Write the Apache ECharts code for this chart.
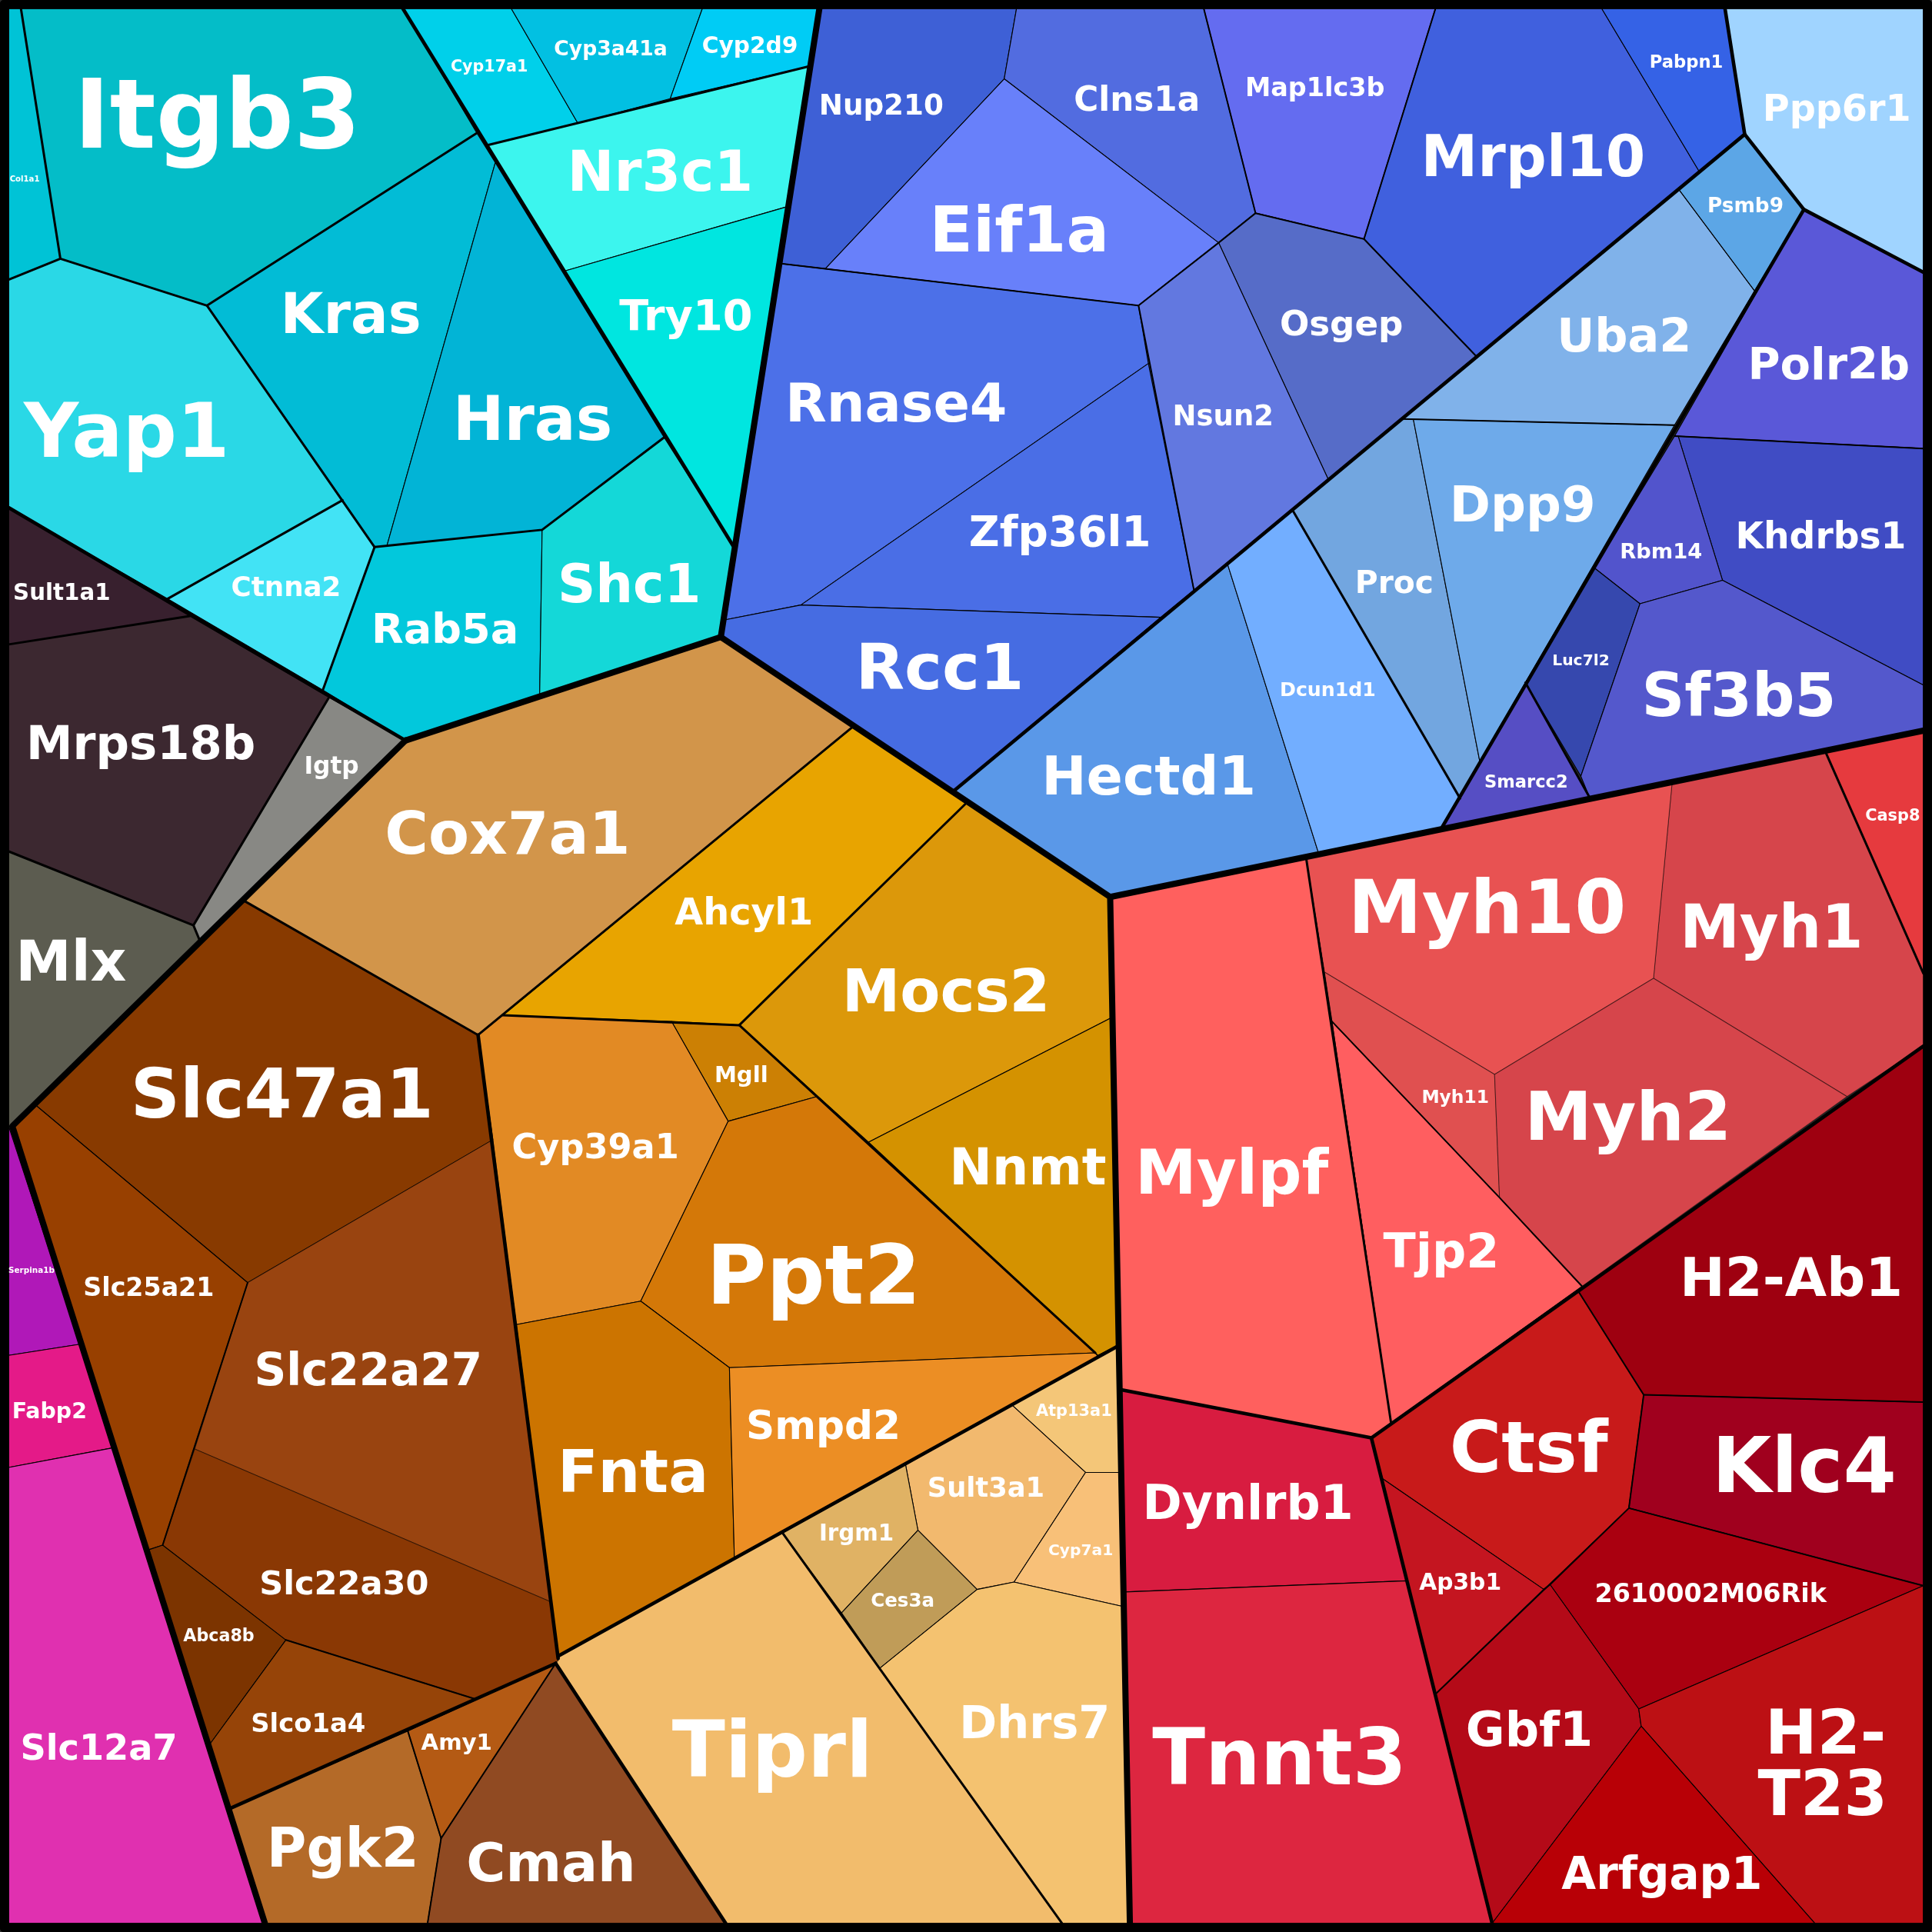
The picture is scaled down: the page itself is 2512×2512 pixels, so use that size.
<!DOCTYPE html>
<html>
<head>
<meta charset="utf-8">
<title>Voronoi treemap</title>
<script src="https://cdn.jsdelivr.net/npm/echarts@6/dist/echarts.min.js"></script>
<style>
  html, body { margin: 0; padding: 0; background: #2b2b2b; }
  #chart { width: 2512px; height: 2512px; }
</style>
</head>
<body>
<div id="chart"></div>
<script>
// gene names, one per cell
const genes = [
  'Col1a1','Itgb3','Yap1','Kras','Hras','Ctnna2','Rab5a','Shc1','Cyp17a1','Cyp3a41a','Cyp2d9','Nr3c1','Try10',
  'Nup210','Clns1a','Map1lc3b','Mrpl10','Pabpn1','Eif1a','Osgep','Nsun2','Rnase4','Zfp36l1','Rcc1',
  'Hectd1','Dcun1d1','Proc','Dpp9','Uba2','Psmb9','Ppp6r1','Polr2b','Khdrbs1','Rbm14','Luc7l2','Sf3b5','Smarcc2',
  'Casp8','Myh1','Myh10','Myh11','Myh2','Tjp2','Mylpf','Dynlrb1','Tnnt3','Ctsf','H2-Ab1','Klc4','2610002M06Rik','Ap3b1','Gbf1','H2-T23','Arfgap1',
  'Cox7a1','Ahcyl1','Mocs2','Nnmt','Mgll','Cyp39a1','Ppt2','Fnta','Smpd2','Atp13a1','Sult3a1','Cyp7a1','Irgm1','Ces3a','Dhrs7','Tiprl',
  'Slc47a1','Slc25a21','Slc22a27','Slc22a30','Abca8b','Slco1a4','Pgk2','Amy1','Cmah',
  'Serpina1b','Fabp2','Slc12a7','Sult1a1','Mrps18b','Igtp','Mlx'
]

// cell outlines, same order as genes
const cellOutlines = [
  [[7,7],[17,7],[49,210],[7,227]],
  [[17,7],[327,7],[387,108],[168,248],[49,210]],
  [[7,227],[49,210],[168,248],[278,406],[136,486],[7,412]],
  [[168,248],[387,108],[402,132],[314,443],[304,444],[278,406]],
  [[402,132],[539,355],[440,430],[314,443]],
  [[278,406],[304,444],[262,560],[136,486]],
  [[304,444],[440,430],[438,564],[329,601],[262,560]],
  [[440,430],[539,355],[595,443],[585,517],[438,564]],
  [[327,7],[415,7],[469,100],[395,118]],
  [[415,7],[570,7],[544,80],[469,100]],
  [[570,7],[665,7],[656,54],[544,80]],
  [[395,118],[656,54],[638,168],[458,220]],
  [[458,220],[638,168],[595,443]],

  [[665,7],[825,7],[815,64],[670,218],[634,214]],
  [[825,7],[977,7],[1019,173],[989,197],[815,64]],
  [[977,7],[1165,7],[1107,194],[1019,173]],
  [[1165,7],[1300,7],[1379,139],[1198,289],[1107,194]],
  [[1300,7],[1400,7],[1416,109],[1379,139]],
  [[815,64],[989,197],[924,248],[670,218]],
  [[1019,173],[1107,194],[1198,289],[1078,389],[989,197]],
  [[989,197],[1078,389],[969,479],[932,295],[924,248]],
  [[634,214],[924,248],[932,295],[650,491],[589,503]],
  [[932,295],[969,479],[942,501],[650,491]],
  [[589,503],[650,491],[942,501],[774,642],[585,517]],

  [[774,642],[996,457],[1070,692],[901,728]],
  [[996,457],[1049,414],[1185,648],[1170,672],[1070,692]],
  [[1049,414],[1138,340],[1147,340],[1201,618],[1185,648]],
  [[1147,340],[1359,345],[1201,618]],
  [[1138,340],[1362,153],[1424,236],[1359,345]],
  [[1362,153],[1416,109],[1464,170],[1424,236]],
  [[1400,7],[1561,7],[1561,221],[1464,170],[1416,109]],
  [[1464,170],[1561,221],[1561,364],[1359,354]],
  [[1362,354],[1561,364],[1561,556],[1398,471]],
  [[1359,354],[1362,354],[1398,471],[1331,490],[1294,461]],
  [[1294,461],[1331,490],[1283,630],[1238,554]],
  [[1331,490],[1398,471],[1561,556],[1561,593],[1290,647],[1283,630]],
  [[1238,554],[1290,647],[1170,672]],

  [[1481,609],[1561,593],[1561,790]],
  [[1357,636],[1481,609],[1561,790],[1561,849],[1499,890],[1342,794]],
  [[1060,696],[1357,636],[1342,794],[1213,872],[1075,789]],
  [[1075,789],[1213,872],[1217,972],[1081,829]],
  [[1342,794],[1499,890],[1284,1044],[1217,972],[1213,872]],
  [[1081,829],[1217,972],[1284,1044],[1129,1155]],
  [[901,728],[1060,696],[1081,829],[1129,1155],[1113,1167],[910,1128]],
  [[910,1128],[1113,1167],[1142,1283],[913,1292]],
  [[913,1292],[1142,1283],[1211,1561],[917,1561]],
  [[1113,1167],[1281,1048],[1334,1132],[1322,1224],[1253,1290],[1122,1200]],
  [[1281,1048],[1561,849],[1561,1138],[1334,1132]],
  [[1334,1132],[1561,1138],[1561,1287],[1322,1224]],
  [[1322,1224],[1561,1287],[1330,1387],[1258,1286]],
  [[1122,1200],[1253,1290],[1165,1375]],
  [[1165,1375],[1258,1286],[1330,1387],[1332,1401],[1211,1561]],
  [[1561,1287],[1561,1561],[1473,1561],[1332,1401],[1330,1387]],
  [[1332,1401],[1473,1561],[1211,1561]],

  [[329,601],[585,517],[692,590],[388,840],[198,731]],
  [[692,590],[784,652],[600,832],[408,824]],
  [[784,652],[901,728],[902,826],[705,927],[600,832]],
  [[902,826],[907,1092],[891,1100],[889,1098],[705,927]],
  [[545,829],[600,832],[663,890],[591,910]],
  [[408,824],[545,829],[591,910],[520,1056],[419,1075],[388,840]],
  [[591,910],[663,890],[889,1098],[592,1110],[520,1056]],
  [[419,1075],[520,1056],[592,1110],[596,1264],[453,1344]],
  [[592,1110],[889,1098],[891,1101],[596,1264]],
  [[908,1092],[909,1195],[881,1195],[821,1140]],
  [[821,1140],[881,1195],[823,1284],[793,1290],[745,1242],[735,1189]],
  [[881,1195],[909,1195],[912,1304],[823,1284]],
  [[735,1189],[745,1242],[683,1309],[635,1244]],
  [[745,1242],[793,1290],[714,1354],[683,1309]],
  [[793,1290],[823,1284],[912,1304],[917,1561],[862,1561],[714,1354]],
  [[635,1244],[862,1561],[589,1561],[451,1350],[454,1344]],

  [[198,731],[388,840],[400,925],[201,1041],[29,897]],
  [[29,897],[201,1041],[132,1254],[120,1258],[10,914]],
  [[201,1041],[400,925],[447,1300],[158,1176]],
  [[158,1176],[447,1300],[453,1348],[386,1379],[232,1331],[132,1254]],
  [[120,1258],[132,1254],[232,1331],[170,1416]],
  [[232,1331],[386,1379],[186,1468],[170,1416]],
  [[186,1468],[331,1405],[358,1492],[347,1561],[215,1561]],
  [[331,1405],[451,1350],[358,1492]],
  [[451,1350],[589,1561],[347,1561],[358,1492]],

  [[7,914],[65,1091],[7,1100]],
  [[7,1100],[65,1091],[92,1175],[7,1191]],
  [[7,1191],[92,1175],[215,1561],[7,1561]],
  [[7,412],[154,500],[7,523]],
  [[7,523],[154,500],[267,566],[157,751],[7,691]],
  [[267,566],[329,601],[162,763],[157,751]],
  [[7,691],[157,751],[162,763],[10,914],[7,914]]
]

const cellColors = [
  '#00c3d6','#04bdc8','#2ad8e6','#02bcd6','#02b4d6','#42e3f5','#02c8dc','#14d8d8','#00d0ea','#02c0e2','#00ccf5','#3cf5ee','#00e6e0',
  '#3e60d6','#526ce0','#646cf0','#4060de','#3562e6','#6880fa','#566cc8','#6278e0','#4c70e8','#4a6ee6','#466ce2',
  '#5a98e8','#72aeff','#72a6e0','#6eaaea','#80b2ea','#5ca6e6','#a0d4ff','#5a58d8','#404cc4','#5254cc','#3648ae','#5458cc','#564ec4',
  '#e63a3e','#d6454b','#e85252','#e05050','#d6454b','#ff5e60','#ff605e','#d81c40','#dd2640','#c81a1a','#9e0010','#a0001e','#aa0010','#c41520','#b40a18','#bc1014','#b80006',
  '#d2954a','#e8a400','#dc980a','#d49200','#cc8004','#e28a24','#d47808','#cc7400','#ec8e24','#f4c678','#f2b96e','#f8c078','#e0b264','#c09c58','#f4c270','#f2bc6c',
  '#883a00','#984000','#994410','#8a3804','#7c3400','#964408','#b46a28','#b45a14','#904a22',
  '#b018b8','#e41a88','#e030b0','#38202e','#3c2830','#888884','#5c5c50'
]

// these cells have a much fainter outline than the others
const faintCells = ['Myh1', 'Myh10', 'Myh11', 'Myh2', 'Slc22a27', 'Slc22a30']

// [left, right, baseline] of each label, one row per line of text
const labelBoxes = [
  [[8,32,147]],[[61,291,120]],[[20,185,371]],[[228,341,270]],[[368,496,357]],[[188,276,484]],[[302,420,522]],[[453,568,489]],
  [[366,428,58]],[[450,541,45]],[[570,647,43]],[[461,610,155]],[[503,610,268]],
  [[665,765,93]],[[872,973,90]],[[1011,1123,78]],[[1154,1334,143]],[[1339,1398,55]],[[755,899,204]],[[1039,1138,272]],[[952,1033,345]],[[638,816,342]],[[787,933,443]],[[695,830,559]],
  [[846,1018,645]],[[1039,1116,565]],[[1100,1163,481]],[[1177,1294,423]],[[1264,1372,285]],[[1386,1447,172]],[[1431,1550,98]],[[1419,1549,308]],[[1409,1546,445]],[[1315,1381,453]],[[1260,1306,540]],[[1333,1489,581]],[[1205,1272,639]],
  [[1514,1558,666]],[[1364,1511,769]],[[1095,1318,757]],[[1154,1208,895]],[[1238,1404,925]],[[1123,1216,1029]],[[922,1077,969]],[[928,1097,1233]],[[936,1140,1448]],[[1177,1304,1195]],[[1364,1543,1052]],[[1390,1538,1211]],[[1295,1481,1300]],[[1152,1218,1290]],[[1190,1292,1417]],[[1433,1530,1423],[1427,1531,1473]],[[1268,1429,1533]],
  [[313,510,693]],[[548,659,750]],[[684,851,821]],[[771,897,961]],[[580,623,878]],[[416,550,940]],[[574,746,1058]],[[453,574,1211]],[[606,730,1168]],[[841,902,1149]],[[753,847,1215]],[[851,903,1262]],[[665,725,1250]],[[707,758,1304]],[[779,900,1411]],[[546,707,1442]],
  [[107,350,907]],[[68,173,1052]],[[207,390,1124]],[[211,347,1294]],[[149,206,1332]],[[204,296,1406]],[[217,339,1515]],[[342,399,1420]],[[379,515,1527]],
  [[7,44,1033]],[[10,70,1151]],[[17,143,1428]],[[11,89,487]],[[22,206,616]],[[247,291,628]],[[13,102,796]]
]
// split of the one label that wraps
const labelLines = { 'H2-T23': ['H2-', 'T23'] }

// boundaries, from the heaviest down to the finest
const outerBoundaries = [
  [[329,601],[10,914],[215,1561]],
  [[329,601],[585,517],[901,728],[917,1561]],
  [[901,728],[1561,593]],
  [[665,7],[585,517]]
]
const groupBoundaries = [
  [[327,7],[595,443]],
  [[329,601],[7,412]],
  [[774,642],[1416,109],[1400,7]],
  [[1416,109],[1464,170],[1561,221]],
  [[1464,170],[1170,672]],
  [[453,1344],[908,1092]],
  [[388,840],[453,1346]],
  [[451,1350],[589,1561]],
  [[186,1468],[451,1350]],
  [[1113,1167],[1561,849]],
  [[910,1128],[1113,1167],[1211,1561]]
]
const innerBoundaries = [
  [[17,7],[49,210],[7,227]],
  [[49,210],[168,248],[387,108]],
  [[168,248],[304,444],[440,430],[539,355]],
  [[136,486],[278,406]],
  [[304,444],[262,560]],
  [[395,118],[656,54]],
  [[7,523],[154,500]],
  [[7,691],[157,751],[162,763]],
  [[157,751],[267,566]],
  [[198,731],[388,840],[692,590]],
  [[408,824],[600,832],[784,652]],
  [[600,832],[889,1098]],
  [[635,1244],[862,1561]],
  [[1060,696],[1129,1155]],
  [[1481,609],[1561,790]],
  [[1049,414],[1185,648]],
  [[1238,554],[1290,647]]
]
const fineBoundaries = [
  [[331,1405],[358,1492],[347,1561]],
  [[358,1492],[451,1350]],
  [[1281,1048],[1334,1132],[1322,1224],[1258,1286],[1253,1290],[1165,1375]],
  [[1334,1132],[1561,1138]],
  [[1322,1224],[1561,1287]],
  [[634,214],[924,248],[989,197],[1019,173],[1107,194],[1198,289]],
  [[977,7],[1019,173]],
  [[1165,7],[1107,194]],
  [[924,248],[969,479]],
  [[1138,340],[1359,345]],
  [[1359,354],[1561,364]],
  [[201,1041],[132,1254]],
  [[232,1331],[386,1379]],
  [[1081,829],[1217,972],[1284,1044]]
]
const frameLine = [[[3.5,3.5],[1564.5,3.5],[1564.5,1564.5],[3.5,1564.5],[3.5,3.5]]]

const outerWidth = 8
const groupWidth = 4.6
const innerWidth = 3
const fineWidth = 2
const frameWidth = 12
const cellWidth = 1.1
const fontFamily = '"DejaVu Sans"'

const measure = document.createElement('canvas').getContext('2d')
measure.font = 'bold 100px ' + fontFamily
measure.textBaseline = 'middle'
// distance from the middle of the line down to the baseline, per px of font size
const baselineDrop = Math.abs(measure.measureText('H').alphabeticBaseline) / 100 || 0.35

// font size that makes a text about as wide
function fitFont(text, width) {
  return 101.2 * width / measure.measureText(text).width
}

const myChart = echarts.init(document.getElementById('chart'), null, { renderer: 'canvas' })

function lineSeries(paths, width, z) {
  return {
    type: 'custom',
    silent: true,
    z: z,
    data: paths.map((p, i) => [i]),
    renderItem: (params, api) => {
      const pts = paths[api.value(0)].map(p => api.coord(p))
      return {
        type: 'polyline',
        shape: { points: pts },
        style: { stroke: '#000', lineWidth: width, fill: null, lineJoin: 'round', lineCap: 'round' }
      }
    }
  }
}

const option = {
  backgroundColor: '#2b2b2b',
  animation: false,
  grid: { left: 0, right: 0, top: 0, bottom: 0 },
  xAxis: { type: 'value', min: 0, max: 1568, show: false },
  yAxis: { type: 'value', min: 0, max: 1568, inverse: true, show: false },
  series: [
    {
      type: 'custom',
      silent: true,
      z: 1,
      data: genes.map((g, i) => [i]),
      renderItem: (params, api) => {
        const i = api.value(0)
        const faint = faintCells.includes(genes[i])
        return {
          type: 'polygon',
          shape: { points: cellOutlines[i].map(p => api.coord(p)) },
          style: {
            fill: cellColors[i],
            stroke: faint ? 'rgba(0,0,0,0.45)' : '#000',
            lineWidth: cellWidth,
            lineJoin: 'round'
          }
        }
      }
    },
    lineSeries(fineBoundaries, fineWidth, 2),
    lineSeries(innerBoundaries, innerWidth, 3),
    lineSeries(groupBoundaries, groupWidth, 4),
    lineSeries(outerBoundaries, outerWidth, 5),
    lineSeries(frameLine, frameWidth, 6),
    {
      type: 'custom',
      silent: true,
      z: 7,
      data: genes.map((g, i) => [i]),
      renderItem: (params, api) => {
        const i = api.value(0)
        const lines = labelLines[genes[i]] || [genes[i]]
        return {
          type: 'group',
          children: lines.map((text, k) => {
            const box = labelBoxes[i][k]
            const left = api.coord([box[0], box[2]])
            const right = api.coord([box[1], box[2]])
            const width = right[0] - left[0]
            const size = fitFont(text, width)
            return {
              type: 'text',
              style: {
                text: text,
                x: left[0] - 0.004 * width,
                y: left[1] - baselineDrop * size,
                fill: '#fff',
                font: 'bold ' + size + 'px ' + fontFamily,
                textAlign: 'left',
                verticalAlign: 'middle',
                shadowColor: 'rgba(0,0,0,0.6)',
                shadowOffsetX: 1.5,
                shadowOffsetY: 1.5,
                shadowBlur: 0.5
              }
            }
          })
        }
      }
    }
  ]
}
myChart.setOption(option)
</script>
</body>
</html>
